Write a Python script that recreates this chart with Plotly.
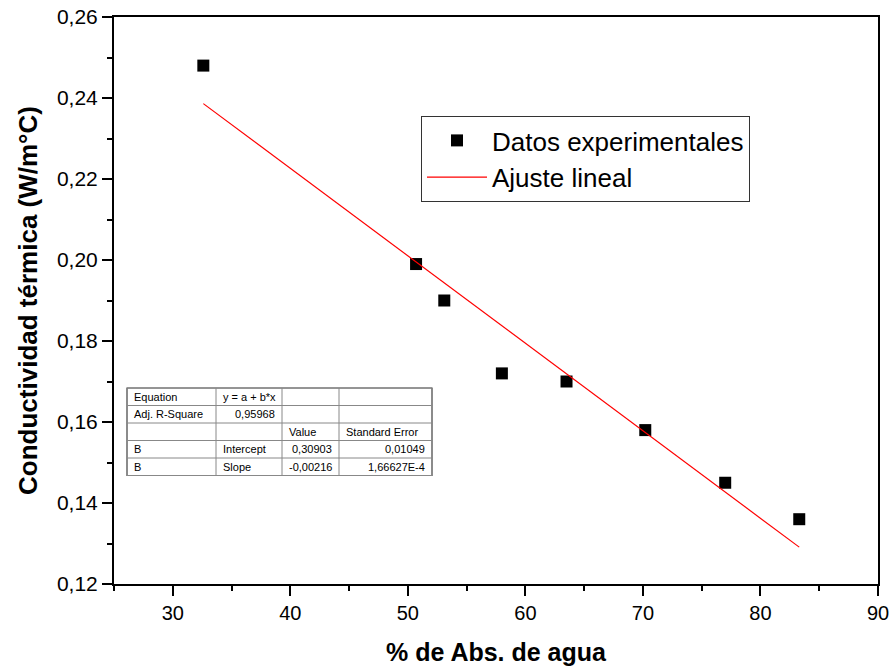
import numpy as np
import plotly.graph_objects as go

# Measured water absorption (%) and thermal conductivity (W/m°C)
abs_agua = [32.6, 50.7, 53.1, 58.0, 63.5, 70.2, 77.0, 83.3]
conductividad = [0.248, 0.199, 0.190, 0.172, 0.170, 0.158, 0.145, 0.136]

# Linear fit results y = a + b*x
intercept = 0.30903
slope = -0.00216
intercept_err = "0,01049"
slope_err = "1,66627E-4"
adj_r2 = "0,95968"

# Fit-summary table contents (rows x columns)
table_rows = [
    ["Equation", "y = a + b*x", "", ""],
    ["Adj. R-Square", adj_r2, "", ""],
    ["", "", "Value", "Standard Error"],
    ["B", "Intercept", "0,30903", intercept_err],
    ["B", "Slope", "-0,00216", slope_err],
]
table_align = [
    ["left", "left", "left", "left"],
    ["left", "right", "left", "left"],
    ["left", "left", "left", "left"],
    ["left", "left", "right", "right"],
    ["left", "left", "right", "right"],
]

FONT = "Liberation Sans, Arial, sans-serif"
W, H = 893, 669
ML, MR, MT, MB = 114, 15, 17, 85
PW, PH = W - ML - MR, H - MT - MB

x_fit = np.array([min(abs_agua), max(abs_agua)])
y_fit = intercept + slope * x_fit

fig = go.Figure()
fig.add_trace(go.Scatter(
    x=abs_agua, y=conductividad, mode="markers", name="Datos experimentales",
    marker=dict(symbol="square", size=12, color="black"),
))
fig.add_trace(go.Scatter(
    x=x_fit, y=y_fit, mode="lines", name="Ajuste lineal",
    line=dict(color="red", width=1.2),
))


def to_paper(px, py):
    return (px - ML) / PW, (H - MB - py) / PH


# Fit table drawn in page pixels, converted to paper coordinates
col_edges = [127, 216, 282, 339, 432]
row_edges = [388, 405.5, 423, 440.5, 458, 475.5]
shapes = []
for cx in col_edges:
    x0, y0 = to_paper(cx, row_edges[0])
    _, y1 = to_paper(cx, row_edges[-1])
    shapes.append(dict(type="line", xref="paper", yref="paper", x0=x0, x1=x0,
                       y0=y0, y1=y1, line=dict(color="#888", width=1)))
for ry in row_edges:
    x0, y0 = to_paper(col_edges[0], ry)
    x1, _ = to_paper(col_edges[-1], ry)
    shapes.append(dict(type="line", xref="paper", yref="paper", x0=x0, x1=x1,
                       y0=y0, y1=y0, line=dict(color="#888", width=1)))
# darker outer frame
bx0, by0 = to_paper(col_edges[0], row_edges[-1])
bx1, by1 = to_paper(col_edges[-1], row_edges[0])
shapes.insert(0, dict(type="rect", xref="paper", yref="paper", x0=bx0, x1=bx1,
                      y0=by0, y1=by1, fillcolor="white",
                      line=dict(color="#444", width=1.2), layer="above"))

annotations = []
pad = 5
for r, row in enumerate(table_rows):
    yc = (row_edges[r] + row_edges[r + 1]) / 2
    for c, txt in enumerate(row):
        if not txt:
            continue
        al = table_align[r][c]
        px = col_edges[c] + pad if al == "left" else col_edges[c + 1] - pad
        xp, yp = to_paper(px, yc)
        annotations.append(dict(
            x=xp, y=yp, xref="paper", yref="paper", text=txt, showarrow=False,
            xanchor=al, yanchor="middle",
            font=dict(family=FONT, size=11, color="black"),
        ))

fig.update_layout(
    width=W, height=H,
    margin=dict(l=ML, r=MR, t=MT, b=MB, autoexpand=False),
    paper_bgcolor="white", plot_bgcolor="white",
    separators=",.",
    font=dict(family=FONT, color="black"),
    showlegend=True,
    legend=dict(
        x=to_paper(421, 116)[0], y=to_paper(421, 116)[1],
        xanchor="left", yanchor="top",
        font=dict(family=FONT, size=26, color="black"),
        bgcolor="white", bordercolor="#333", borderwidth=1,
        itemwidth=60, tracegroupgap=0,
    ),
    shapes=shapes,
    annotations=annotations,
)

fig.update_xaxes(
    range=[25, 90], dtick=10, tick0=0, automargin=False,
    showgrid=False, zeroline=False,
    showline=True, linecolor="black", linewidth=2, mirror=True,
    ticks="outside", ticklen=10, tickwidth=1.5, tickcolor="black",
    minor=dict(ticks="outside", ticklen=5, dtick=5, tick0=0, tickcolor="black", tickwidth=1.5),
    tickfont=dict(family=FONT, size=20, color="black"),
    title=dict(text="<b>% de Abs. de agua</b>", font=dict(family=FONT, size=25, color="black"), standoff=20),
)
fig.update_yaxes(
    range=[0.12, 0.26], dtick=0.02, tick0=0, tickformat=".2f", automargin=False,
    showgrid=False, zeroline=False,
    showline=True, linecolor="black", linewidth=2, mirror=True,
    ticks="outside", ticklen=10, tickwidth=1.5, tickcolor="black",
    minor=dict(ticks="outside", ticklen=5, dtick=0.01, tick0=0, tickcolor="black", tickwidth=1.5),
    tickfont=dict(family=FONT, size=21, color="black"),
    title=dict(text="<b>Conductividad térmica (W/m°C)</b>", font=dict(family=FONT, size=26, color="black"), standoff=12),
)

fig.write_html("out.html")
